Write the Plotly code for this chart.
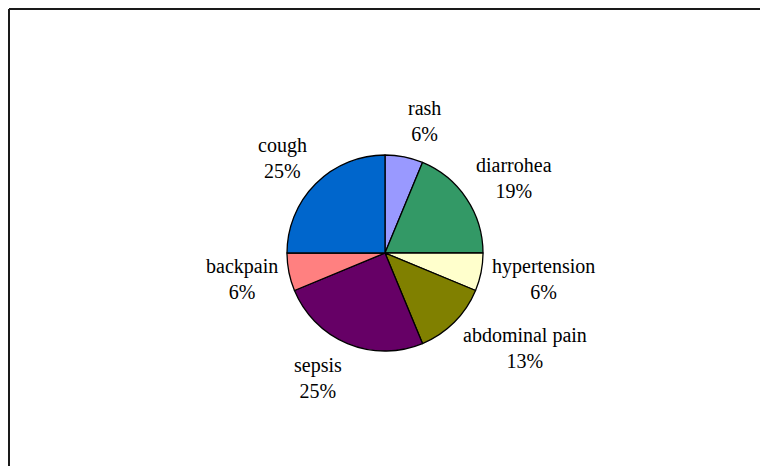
import math
import plotly.graph_objects as go

labels = ["rash", "diarrohea", "hypertension", "abdominal pain", "sepsis", "backpain", "cough"]
counts = [1, 3, 1, 2, 4, 1, 4]
colors = ["#9999FF", "#339966", "#FFFFCC", "#808000", "#660066", "#FF8080", "#0066CC"]

W, H = 760, 466
off = 8                            # frame offset from the page corner
cx, cy, r = 385, 253, 98          # pie centre / radius in page pixels
lab_a, lab_b = 107, 135           # label anchor distances (horizontal / vertical)
FONT = dict(family="Liberation Serif", size=20, color="black")

fig = go.Figure(go.Pie(
    labels=labels,
    values=counts,
    sort=False,
    direction="clockwise",
    rotation=0,
    marker=dict(colors=colors, line=dict(color="black", width=1.3)),
    textinfo="none",
    showlegend=False,
    hoverinfo="skip",
    domain=dict(x=[(cx - r) / W, (cx + r) / W], y=[(H - cy - r) / H, (H - cy + r) / H]),
))

# data labels placed around the pie at each slice's mid angle
total = sum(counts)
annotations = []
cum = 0
for lab, v in zip(labels, counts):
    frac = v / total
    mid = (cum + frac / 2) * 2 * math.pi
    cum += frac
    s, c = math.sin(mid), math.cos(mid)
    px = cx + lab_a * s
    py = cy - lab_b * c
    xa = "left" if s > 0.1 else ("right" if s < -0.1 else "center")
    pct = int(frac * 100 + 0.5)
    annotations.append(dict(
        x=px / W, y=(H - py) / H, xref="paper", yref="paper",
        text=f"{lab}<br>{pct}%", showarrow=False,
        xanchor=xa, yanchor="middle", align="center", font=FONT,
    ))

frame = dict(color="#1a1a1a", width=2)
fx, fy = (off + 1) / W, 1 - (off + 1) / H
fig.update_layout(
    width=W, height=H,
    margin=dict(l=0, r=0, t=0, b=0),
    paper_bgcolor="white",
    plot_bgcolor="white",
    font=FONT,
    annotations=annotations,
    shapes=[
        dict(type="line", xref="paper", yref="paper", x0=fx, x1=1, y0=fy, y1=fy, line=frame),
        dict(type="line", xref="paper", yref="paper", x0=fx, x1=fx, y0=0, y1=fy, line=frame),
    ],
)

fig.write_html(
    "out.html",
    config={"displayModeBar": False},
    post_script=(
        "document.documentElement.style.overflow='hidden';"
        "document.body.style.overflow='hidden';"
        "document.body.style.margin='0';"
    ),
)
